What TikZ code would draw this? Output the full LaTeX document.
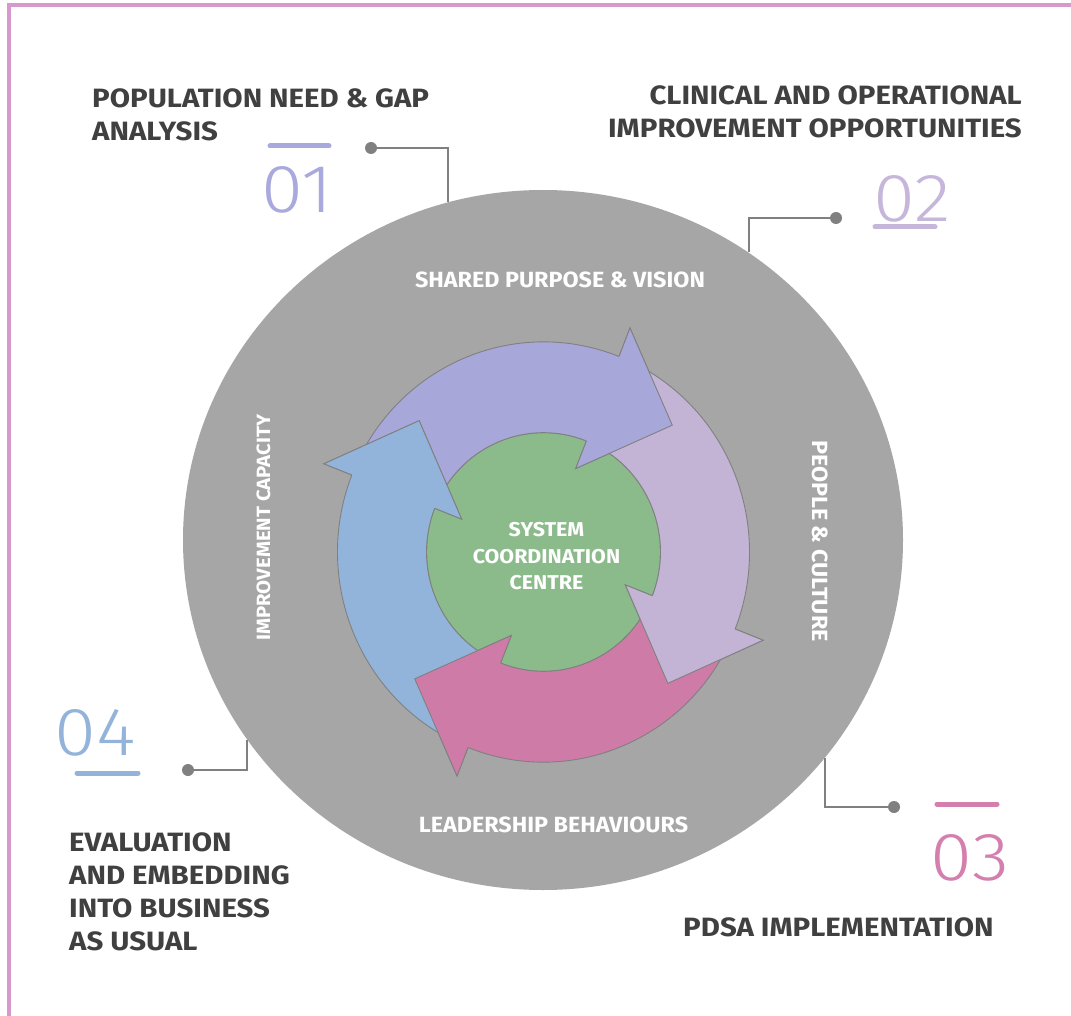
\documentclass[tikz,border=0pt]{standalone}
\usepackage{fontspec}
\setmainfont{Fira Sans}
\newfontfamily\headfont{Fira Sans}[FakeStretch=1.11]
\newfontfamily\ringfont{Fira Sans}[FakeStretch=1.06]
\newfontfamily\hubfont{Fira Sans}[FakeStretch=1.07]
\newfontfamily\numfont{Fira Sans Light}[FakeStretch=1.12]
\definecolor{framepink}{RGB}{214,152,205}
\definecolor{discgray}{RGB}{166,166,166}
\definecolor{linegray}{RGB}{128,128,128}
\definecolor{textdark}{RGB}{64,64,64}
\definecolor{cPurple}{RGB}{167,167,218}
\definecolor{cLavender}{RGB}{195,180,214}
\definecolor{cPink}{RGB}{207,123,168}
\definecolor{cBlue}{RGB}{147,180,218}
\definecolor{cGreen}{RGB}{139,186,139}
\definecolor{nPurple}{RGB}{169,169,221}
\definecolor{nLavender}{RGB}{198,182,218}
\definecolor{nPink}{RGB}{212,127,174}
\definecolor{nBlue}{RGB}{147,179,218}
\tikzset{
  frame/.style={draw=framepink, line width=4pt},
  heading/.style={font=\headfont\bfseries\fontsize{26.5}{33.3}\selectfont, text=textdark, inner sep=0pt},
  ringlabel/.style={font=\ringfont\bfseries\fontsize{22}{26}\selectfont, text=white, inner sep=0pt},
  smallring/.style={font=\ringfont\bfseries\fontsize{19.2}{24}\selectfont, text=white, inner sep=0pt},
  hublabel/.style={font=\hubfont\bfseries\fontsize{20}{26.5}\selectfont, text=white, inner sep=0pt, align=center},
  stepnum/.style={font=\numfont\fontsize{68}{68}\selectfont, inner sep=0pt},
  numbar/.style={line width=5pt, line cap=round},
  leader/.style={draw=linegray, line width=1.2pt},
  leaderdot/.style={circle, fill=linegray, inner sep=0pt, minimum size=12pt},
  arrowline/.style={draw=linegray, line width=0.9pt, line join=miter},
}
\begin{document}
\begin{tikzpicture}[x=1pt, y=-1pt]
\useasboundingbox (0,0) rectangle (1071,1016);
\fill[white] (0,0) rectangle (1071,1016);

% page frame (top and left rules)
\draw[frame] (6.7,5.3) -- (1071,5.3);
\draw[frame] (8.7,3.3) -- (8.7,1016);

% outer grey disc
\fill[discgray] (543,540) ellipse [x radius=360pt, y radius=350pt];

% ring labels
\node[ringlabel, anchor=base] (purpose) at (560,287.3) {SHARED PURPOSE \& VISION};
\node[ringlabel, anchor=base] (leader) at (553.5,832.3) {LEADERSHIP BEHAVIOURS};
\node[ringlabel, anchor=base, rotate=-90] (people) at (812.7,541) {PEOPLE \& CULTURE};
\node[smallring, anchor=base, rotate=90] (capacity) at (270,527.5) {IMPROVEMENT CAPACITY};

% cycle of four arrows around the hub
\begin{scope}[shift={(543.5,552)}, x=1pt, y=1.02pt]
  \def\Ri{117}\def\Ro{206}\def\Hi{88}\def\Ho{236}\def\Rt{179}
  \filldraw[arrowline, fill=cGreen] (0,0) circle [radius=117];
  % full arrows (body + head)
  \foreach \b/\c in {68.5/cPurple, -21.5/cLavender, -111.5/cPink, -201.5/cBlue}{
    \pgfmathsetmacro\t{\b+86.5}
    \filldraw[arrowline, fill=\c]
      (\t:\Ro) arc [start angle=\t, end angle=\b, radius=\Ro]
      -- (\b:\Ho) -- ({\b-24.5}:\Rt) -- (\b:\Hi) -- (\b:\Ri)
      arc [start angle=\b, end angle=\t, radius=\Ri] -- cycle;
  }
  % heads again, so each one lies over the following arrow's tail
  \foreach \b/\c in {68.5/cPurple, -21.5/cLavender, -111.5/cPink, -201.5/cBlue}{
    \fill[\c] (\b:\Hi) -- ({\b-24.5}:\Rt) -- (\b:\Ho) -- cycle;
    \draw[arrowline] (\b:\Ro) -- (\b:\Ho) -- ({\b-24.5}:\Rt) -- (\b:\Hi) -- (\b:\Ri);
  }
\end{scope}

\node[hublabel] (hub) at (546.5,556.5) {SYSTEM\\COORDINATION\\CENTRE};

% step headings
\node[heading, anchor=north west, align=left] (h1) at (92,88) {POPULATION NEED \& GAP\\ANALYSIS};
\node[heading, anchor=north east, align=right] (h2) at (1022,85) {CLINICAL AND OPERATIONAL\\IMPROVEMENT OPPORTUNITIES};
\node[heading, anchor=north west, align=left] (h3) at (683,917) {PDSA IMPLEMENTATION};
\node[heading, anchor=north west, align=left] (h4) at (69,832) {EVALUATION\\AND EMBEDDING\\INTO BUSINESS\\AS USUAL};

% step numbers with their bars
\node[stepnum, text=nPurple, anchor=base] (n1) at (297.5,213) {01};
\node[stepnum, text=nLavender, anchor=base] (n2) at (912,222) {02};
\node[stepnum, text=nPink, anchor=base] (n3) at (970,880) {03};
\node[stepnum, text=nBlue, anchor=base] (n4) at (95,755) {04};
\draw[numbar, draw=nPurple] (270,146) -- (329,146);
\draw[numbar, draw=nLavender] (875,227) -- (935,227);
\draw[numbar, draw=nPink] (937,804) -- (997,804);
\draw[numbar, draw=nBlue] (77,773) -- (138,773);

% leader lines from the disc to the dots
\node[leaderdot] (d1) at (371,148) {};
\node[leaderdot] (d2) at (836,218) {};
\node[leaderdot] (d3) at (894,807) {};
\node[leaderdot] (d4) at (188,770) {};
\coordinate (e1) at (448,202.5);
\coordinate (e2) at (749,252);
\coordinate (e3) at (825,757.5);
\coordinate (e4) at (247,740);
\draw[leader] (d1.center) -| (e1);
\draw[leader] (d2.center) -| (e2);
\draw[leader] (d3.center) -| (e3);
\draw[leader] (d4.center) -| (e4);
\end{tikzpicture}
\end{document}
